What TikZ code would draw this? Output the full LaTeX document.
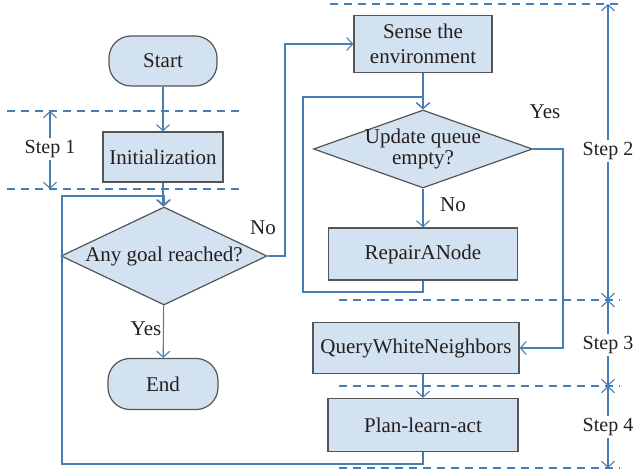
\documentclass[tikz,border=0pt]{standalone}
\usepackage{fontspec}
\setmainfont{Liberation Serif}
\usetikzlibrary{shapes.geometric,arrows.meta}
\definecolor{lineblue}{RGB}{70,125,180}
\definecolor{boxfill}{RGB}{211,226,240}
\definecolor{boxdraw}{RGB}{85,85,85}
\definecolor{txt}{RGB}{35,31,32}
\begin{document}
\begin{tikzpicture}[x=1pt,y=-1pt,
  font=\fontsize{21}{25}\selectfont, text=txt,
  box/.style={draw=boxdraw, fill=boxfill, line width=1.2pt, inner sep=0pt},
  rbox/.style={box, rectangle},
  term/.style={box, rectangle, rounded corners=22pt},
  dia/.style={box, diamond, align=center, shape aspect=2, inner xsep=-40pt, inner ysep=-14pt},
  arr/.style={draw=lineblue, line width=1.1pt, -{Straight Barb[length=6pt,width=13pt,line width=1.1pt]}},
  dashline/.style={draw=lineblue, line width=1.1pt, dash pattern=on 8pt off 6pt},
  lbl/.style={inner sep=2pt},
  steplbl/.style={inner sep=2pt, font=\fontsize{20}{24}\selectfont}]
\useasboundingbox (0,0) rectangle (635,470);
% nodes
\node[term, minimum width=108pt, minimum height=50pt] (start) at (163,61) {Start};
\node[rbox, minimum width=120pt, minimum height=50pt] (init) at (163,157) {Initialization};
\node[dia, minimum width=206pt, minimum height=98pt] (goal) at (164,256) {Any goal reached?};
\node[term, minimum width=110pt, minimum height=51pt] (end) at (163,384) {End};
\node[rbox, minimum width=138pt, minimum height=57pt, align=center] (sense) at (423,44) {Sense the\\environment};
\node[dia, minimum width=219pt, minimum height=78pt] (upd) at (423,149) {Update queue\\[-4pt]empty?};
\node[rbox, minimum width=189pt, minimum height=52pt] (repair) at (423,254) {RepairANode};
\node[rbox, minimum width=206pt, minimum height=51pt] (qwn) at (416,348) {QueryWhiteNeighbors};
\node[rbox, minimum width=190pt, minimum height=53pt] (plan) at (423,425) {Plan-learn-act};
% labels
\node[lbl] (no1) at (263,228) {No};
\node[lbl] (yes1) at (146,329) {Yes};
\node[lbl] (no2) at (453,205) {No};
\node[lbl] (yes2) at (545,112) {Yes};
\node[steplbl] (s1) at (50,149) {Step 1};
\node[steplbl] (s2) at (608,151) {Step 2};
\node[steplbl] (s3) at (608,345) {Step 3};
\node[steplbl] (s4) at (608,427) {Step 4};
% dashed line coordinates
\coordinate (da1) at (7,111);  \coordinate (db1) at (240,111);
\coordinate (da2) at (7,189);  \coordinate (db2) at (240,189);
\coordinate (da3) at (330,4);  \coordinate (db3) at (618,4);
\coordinate (da4) at (339,300); \coordinate (db4) at (620,300);
\coordinate (da5) at (339,386); \coordinate (db5) at (620,386);
\coordinate (da6) at (339,468); \coordinate (db6) at (620,468);
\foreach \i in {1,...,6} {\draw[dashline] (da\i) -- (db\i);}
% step arrows
\draw[arr] (s1.north) -- (s1.north |- da1);
\draw[arr] (s1.south) -- (s1.south |- da2);
\draw[arr] (s2.north) -- (s2.north |- da3);
\draw[arr] (s2.south) -- (s2.south |- da4);
\draw[arr] (s3.north) -- (s3.north |- da4);
\draw[arr] (s3.south) -- (s3.south |- da5);
\draw[arr] (s4.north) -- (s4.north |- da5);
\draw[arr] (s4.south) -- (s4.south |- da6);
% loop coordinates
\coordinate (bl) at (62,464);
\coordinate (tl) at (62,196);
\coordinate (nox) at (285,256);
\coordinate (rl) at (303,292);
\coordinate (rt) at (303,97);
\coordinate (yx) at (563,149);
% connectors
\draw[arr] (start) -- (init);
\draw[arr] (init.south) -- (init.south |- goal.north);
\draw[arr] (plan.south) |- (bl) -- (tl) -| (goal.north);
\draw[arr] (goal.east) -- (nox) |- (sense.west);
\draw[arr] (goal) -- (end);
\draw[arr] (sense) -- (upd);
\draw[arr] (upd) -- (repair);
\draw[arr] (repair.south) |- (rl) -- (rt) -| (upd.north);
\draw[arr] (upd.east) -- (yx) |- (qwn.east);
\draw[arr] (plan.north |- qwn.south) -- (plan.north);
\end{tikzpicture}
\end{document}
